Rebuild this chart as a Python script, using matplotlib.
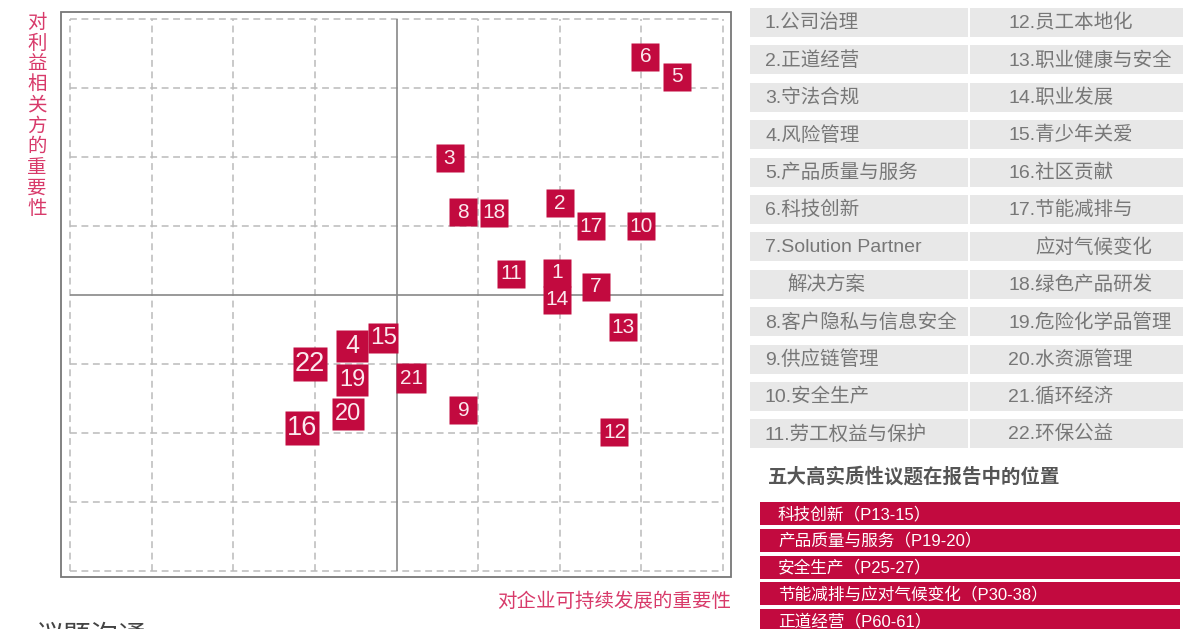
import matplotlib.pyplot as plt
from matplotlib.patches import Rectangle

plt.rcParams['font.family'] = ['Noto Sans CJK SC', 'DejaVu Sans']
MIXED = ['Liberation Sans', 'Noto Sans CJK SC']

# materiality matrix: issue number, x = importance to company, y = importance to stakeholders
issue_ids = ["1", "2", "3", "4", "5", "6", "7", "8", "9", "10", "11",
             "12", "13", "14", "15", "16", "17", "18", "19", "20", "21", "22"]
company_imp = [5.97, 6.00, 4.65, 3.46, 7.44, 7.05, 6.44, 4.81, 4.82, 7.00, 5.40,
               6.67, 6.77, 5.97, 3.84, 2.84, 6.38, 5.20, 3.46, 3.41, 4.18, 2.94]
stakeholder_imp = [4.32, 5.33, 5.98, 3.26, 7.16, 7.45, 4.12, 5.20, 2.33, 5.00, 4.31,
                   2.01, 3.53, 3.93, 3.38, 2.07, 5.00, 5.19, 2.77, 2.28, 2.79, 3.00]

left_items = ["1.公司治理", "2.正道经营", "3.守法合规", "4.风险管理", "5.产品质量与服务",
              "6.科技创新", "7.Solution Partner", "解决方案", "8.客户隐私与信息安全",
              "9.供应链管理", "10.安全生产", "11.劳工权益与保护"]
right_items = ["12.员工本地化", "13.职业健康与安全", "14.职业发展", "15.青少年关爱",
               "16.社区贡献", "17.节能减排与", "应对气候变化", "18.绿色产品研发",
               "19.危险化学品管理", "20.水资源管理", "21.循环经济", "22.环保公益"]

top_issues = ["科技创新（P13-15）", "产品质量与服务（P19-20）", "安全生产（P25-27）",
              "节能减排与应对气候变化（P30-38）", "正道经营（P60-61）"]

RED = "#C20A3F"
LABEL = "#D83A6A"
W, H = 1204, 629

fig = plt.figure(figsize=(W / 100, H / 100), dpi=100)

# overlay in pixel units for frame, table and captions
ov = fig.add_axes([0, 0, 1, 1])
ov.set_xlim(0, W)
ov.set_ylim(H, 0)
ov.axis("off")

# outer frame of the matrix
ov.add_patch(Rectangle((61, 12), 670, 565, fill=False, edgecolor="#777777", lw=1.3))

# matrix axes
ax = fig.add_axes([70 / W, (H - 571) / H, (723 - 70) / W, (571 - 19) / H])
ax.set_xlim(0, 8)
ax.set_ylim(0, 8)
ax.axis("off")
for v in range(9):
    if v == 4:
        continue
    ax.axvline(v, color="#BBBBBB", lw=1.1, ls=(0, (4.5, 3)), clip_on=False)
    ax.axhline(v, color="#BBBBBB", lw=1.1, ls=(0, (4.5, 3)), clip_on=False)
ax.axvline(4, color="#888888", lw=1.2)
ax.axhline(4, color="#888888", lw=1.2)

big = {"22": (24.5, 19.5), "16": (24.5, 19.5)}
mid = {"4": (23, 18), "19": (23, 17), "20": (23, 17), "15": (22, 17.5), "21": (21.5, 15)}
for lab, x, y in zip(issue_ids, company_imp, stakeholder_imp):
    ms, fs = big.get(lab, mid.get(lab, (20.3, 15)))
    ax.plot(x, y, marker="s", ms=ms, color=RED, mec="none", clip_on=False, zorder=3)
    ax.text(x, y, lab, color="#FBE9EE", fontsize=fs, ha="center", va="center",
            family=["Liberation Sans"], zorder=4)

# axis captions
ov.text(37, 12, "\n".join("对利益相关方的重要性"), color=LABEL, fontsize=14,
        ha="center", va="top", linespacing=0.98)
ov.text(731, 601, "对企业可持续发展的重要性", color=LABEL, fontsize=14,
        ha="right", va="center")

# issue list table
for i, (lt, rt) in enumerate(zip(left_items, right_items)):
    top = 8 + i * 37.4
    ov.add_patch(Rectangle((750, top), 218, 29, color="#E8E8E8", lw=0))
    ov.add_patch(Rectangle((970, top), 213, 29, color="#E8E8E8", lw=0))
    lx = 787 if lt == "解决方案" else 765
    rx = 1035 if rt == "应对气候变化" else 1008
    ov.text(lx, top + 15, lt, color="#777777", fontsize=14, va="center", family=MIXED)
    ov.text(rx, top + 15, rt, color="#777777", fontsize=14, va="center", family=MIXED)

ov.text(768, 477, "五大高实质性议题在报告中的位置", color="#555555", fontsize=14,
        fontweight="bold", va="center")

for i, t in enumerate(top_issues):
    top = 502 + i * 26.8
    ov.add_patch(Rectangle((760, top), 420, 23, color=RED, lw=0))
    ov.text(778, top + 12, t, color="white", fontsize=12, va="center", family=MIXED)

# section title cut off by the page edge, as in the source page
ov.text(36, 621, "议题沟通", color="#444444", fontsize=20, va="top")

fig.savefig("out.png", dpi=100)
